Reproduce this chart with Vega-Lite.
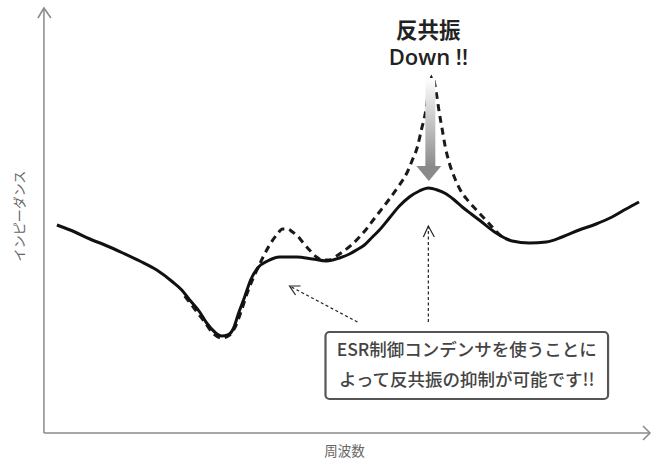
{
  "$schema": "https://vega.github.io/schema/vega-lite/v6.json",
  "width": 653,
  "height": 463,
  "autosize": {"type": "fit", "contains": "padding"},
  "padding": 0,
  "config": {"view": {"stroke": null}, "font": "Noto Sans CJK JP"},
  "datasets": {
    "solid": [
      {"x":57,"y":238},{"x":75,"y":231},{"x":90,"y":224},{"x":105,"y":218},{"x":123,"y":210},{"x":140,"y":202},{"x":157,"y":193},{"x":173,"y":181},{"x":182,"y":173},{"x":190,"y":163},{"x":200,"y":151},{"x":207,"y":140},{"x":215,"y":131},{"x":222,"y":127},{"x":228,"y":128},{"x":234,"y":135},{"x":239,"y":150},{"x":245,"y":166},{"x":251,"y":183},{"x":259,"y":196},{"x":268,"y":202},{"x":280,"y":206},{"x":297,"y":206},{"x":313,"y":204},{"x":327,"y":202},{"x":340,"y":205},{"x":350,"y":209},{"x":357,"y":213},{"x":365,"y":218},{"x":373,"y":226},{"x":380,"y":233},{"x":390,"y":245},{"x":400,"y":257},{"x":410,"y":266},{"x":420,"y":272},{"x":429,"y":275},{"x":438,"y":273},{"x":447,"y":269},{"x":455,"y":263},{"x":463,"y":256},{"x":472,"y":249},{"x":480,"y":243},{"x":497,"y":230},{"x":513,"y":222},{"x":530,"y":220},{"x":547,"y":221},{"x":563,"y":226},{"x":580,"y":233},{"x":597,"y":239},{"x":613,"y":246},{"x":627,"y":254},{"x":640,"y":261}
    ],
    "dashed": [
      {"x":185,"y":167},{"x":195,"y":154},{"x":205,"y":141},{"x":213,"y":130},{"x":222,"y":125},{"x":230,"y":128},{"x":236,"y":137},{"x":242,"y":153},{"x":248,"y":171},{"x":255,"y":188},{"x":263,"y":205},{"x":270,"y":218},{"x":277,"y":228},{"x":283,"y":234},{"x":288,"y":234},{"x":293,"y":231},{"x":298,"y":227},{"x":303,"y":221},{"x":310,"y":213},{"x":317,"y":206},{"x":323,"y":203},{"x":330,"y":203},{"x":337,"y":207},{"x":343,"y":211},{"x":352,"y":218},{"x":360,"y":226},{"x":367,"y":234},{"x":373,"y":242},{"x":380,"y":251},{"x":390,"y":264},{"x":400,"y":278},{"x":408,"y":291},{"x":413,"y":303},{"x":418,"y":316},{"x":422,"y":333},{"x":426,"y":350},{"x":429,"y":370},{"x":433,"y":387},{"x":437,"y":370},{"x":440,"y":350},{"x":443,"y":333},{"x":446,"y":316},{"x":450,"y":300},{"x":455,"y":286},{"x":461,"y":273},{"x":469,"y":262},{"x":480,"y":250},{"x":493,"y":236},{"x":503,"y":226},{"x":510,"y":223}
    ],
    "axes": [
      {"g":"yaxis","o":0,"x":44,"y":30},{"g":"yaxis","o":1,"x":44,"y":455},
      {"g":"xaxis","o":0,"x":44,"y":30},{"g":"xaxis","o":1,"x":651,"y":30},
      {"g":"yhead","o":0,"x":38,"y":445},{"g":"yhead","o":1,"x":44,"y":455},{"g":"yhead","o":2,"x":51,"y":445},
      {"g":"xhead","o":0,"x":644,"y":37},{"g":"xhead","o":1,"x":651,"y":30},{"g":"xhead","o":2,"x":644,"y":23}
    ],
    "dasharrows": [
      {"g":"a1","o":0,"x":358,"y":141},{"g":"a1","o":1,"x":290,"y":177},
      {"g":"a2","o":0,"x":429,"y":141},{"g":"a2","o":1,"x":429,"y":237}
    ],
    "arrowheads": [
      {"g":"h1","o":0,"x":301,"y":177},{"g":"h1","o":1,"x":290,"y":177},{"g":"h1","o":2,"x":296,"y":168},
      {"g":"h2","o":0,"x":424,"y":226},{"g":"h2","o":1,"x":429,"y":237},{"g":"h2","o":2,"x":435,"y":226}
    ]
  },
  "encoding": {
    "x": {"field": "x", "type": "quantitative", "scale": {"domain": [0, 653], "nice": false, "zero": false}, "axis": null},
    "y": {"field": "y", "type": "quantitative", "scale": {"domain": [0, 463], "nice": false, "zero": false}, "axis": null}
  },
  "layer": [
    {
      "data": {"name": "axes"},
      "mark": {"type": "line", "color": "#8a8a8a", "strokeWidth": 1.5},
      "encoding": {"detail": {"field": "g"}, "order": {"field": "o"}}
    },
    {
      "data": {"values": [{"x": 20, "y": 247, "t": "インピーダンス"}]},
      "mark": {"type": "text", "angle": 270, "fontSize": 13, "color": "#666666", "baseline": "middle", "align": "center"},
      "encoding": {"text": {"field": "t"}}
    },
    {
      "data": {"values": [{"x": 345, "y": 11, "t": "周波数"}]},
      "mark": {"type": "text", "fontSize": 13.5, "color": "#666666", "baseline": "middle", "align": "center"},
      "encoding": {"text": {"field": "t"}}
    },
    {
      "data": {"name": "dashed"},
      "mark": {"type": "line", "interpolate": "monotone", "color": "#1a1a1a", "strokeWidth": 3, "strokeDash": [7, 5]}
    },
    {
      "data": {"name": "solid"},
      "mark": {"type": "line", "interpolate": "monotone", "color": "#111111", "strokeWidth": 3}
    },
    {
      "data": {"values": [{"x": 426, "x2": 436, "y": 385, "y2": 297}]},
      "mark": {"type": "rect", "color": {"gradient": "linear", "x1": 0, "y1": 0, "x2": 0, "y2": 1, "stops": [{"offset": 0, "color": "#ffffff"}, {"offset": 1, "color": "#8c8c8c"}]}},
      "encoding": {"x2": {"field": "x2"}, "y2": {"field": "y2"}}
    },
    {
      "data": {"values": [{"x": 417, "y": 297, "y2": 297}, {"x": 429.5, "y": 297, "y2": 282}, {"x": 442, "y": 297, "y2": 297}]},
      "mark": {"type": "area", "color": "#8a8a8a", "interpolate": "linear", "orient": "vertical"},
      "encoding": {"y2": {"field": "y2"}}
    },
    {
      "data": {"name": "dasharrows"},
      "mark": {"type": "line", "color": "#222222", "strokeWidth": 1.2, "strokeDash": [3, 2.5]},
      "encoding": {"detail": {"field": "g"}, "order": {"field": "o"}}
    },
    {
      "data": {"name": "arrowheads"},
      "mark": {"type": "line", "color": "#222222", "strokeWidth": 1.2},
      "encoding": {"detail": {"field": "g"}, "order": {"field": "o"}}
    },
    {
      "data": {"values": [{"x": 326, "x2": 609, "y": 131, "y2": 64}]},
      "mark": {"type": "rect", "fill": "#ffffff", "stroke": "#555555", "strokeWidth": 2.2, "cornerRadius": 4},
      "encoding": {"x2": {"field": "x2"}, "y2": {"field": "y2"}}
    },
    {
      "data": {"values": [{"x": 467.5, "y": 112, "t": "ESR制御コンデンサを使うことに"}, {"x": 467.5, "y": 82, "t": "よって反共振の抑制が可能です!!"}]},
      "mark": {"type": "text", "fontSize": 17.5, "fontWeight": 500, "color": "#444444", "baseline": "middle", "align": "center"},
      "encoding": {"text": {"field": "t"}}
    },
    {
      "data": {"values": [{"x": 429, "y": 431.5, "t": "反共振"}]},
      "mark": {"type": "text", "fontSize": 21.5, "fontWeight": "bold", "color": "#222222", "baseline": "middle", "align": "center"},
      "encoding": {"text": {"field": "t"}}
    },
    {
      "data": {"values": [{"x": 429, "y": 405.5, "t": "Down !!"}]},
      "mark": {"type": "text", "font": "Open Sans", "fontSize": 22, "fontWeight": 600, "color": "#222222", "baseline": "middle", "align": "center"},
      "encoding": {"text": {"field": "t"}}
    }
  ]
}
